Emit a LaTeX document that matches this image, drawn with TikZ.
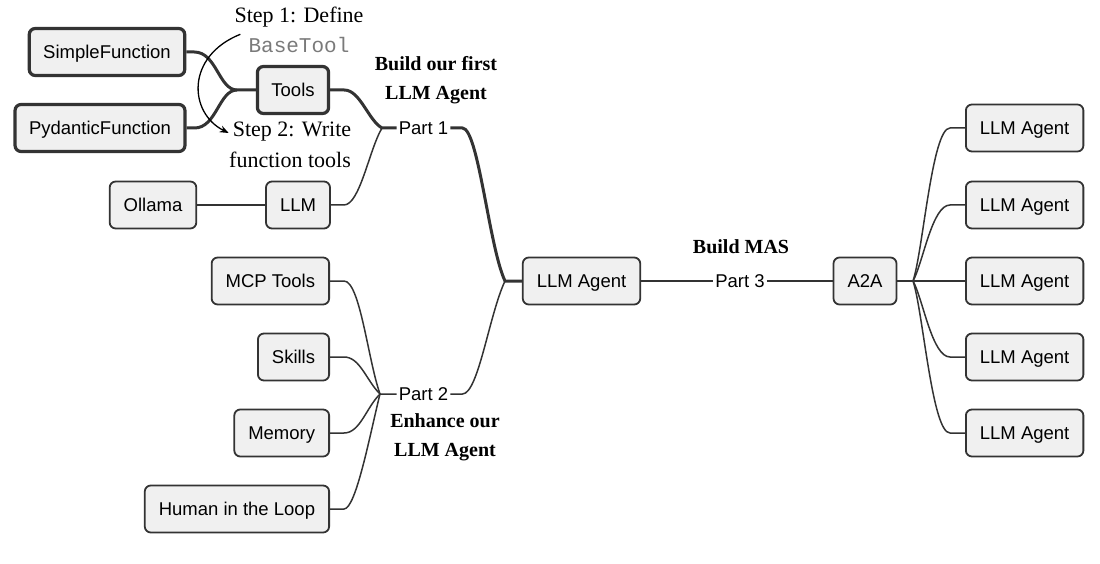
\documentclass[tikz,border=0pt]{standalone}
\usepackage{fontspec}
\setmainfont{Liberation Serif}
\setmonofont{Liberation Mono}
\newfontfamily\boxfont{Liberation Sans}
\usetikzlibrary{arrows.meta,calc}
\definecolor{linec}{HTML}{333333}
\definecolor{boxfill}{HTML}{F0F0F0}
\definecolor{codegray}{HTML}{7A7A7A}
\tikzset{
  box/.style={draw=linec, fill=boxfill, rounded corners=6pt, line width=1.8pt,
    minimum height=47pt, inner xsep=14pt, inner ysep=0pt, text height=13.3pt, text depth=0pt,
    font=\boxfont\fontsize{18.5}{22}\selectfont},
  thickbox/.style={box, line width=3.2pt},
  partlbl/.style={inner xsep=2pt, inner ysep=1pt, text height=13.3pt, text depth=0pt,
    font=\boxfont\fontsize{18.5}{22}\selectfont},
  thin/.style={draw=linec, line width=1.5pt},
  thk/.style={draw=linec, line width=3pt},
  boldlbl/.style={align=center, font=\bfseries\fontsize{20}{29}\selectfont},
  steplbl/.style={inner sep=1pt, font=\fontsize{22}{26}\selectfont},
}
\begin{document}
\begin{tikzpicture}[x=1pt,y=-1pt]
\useasboundingbox (0,0) rectangle (1100,564);

% left group
\node[thickbox] (sf) at (107,52) {SimpleFunction};
\node[thickbox] (pf) at (100,128) {PydanticFunction};
\node[thickbox] (tools) at (293,90) {Tools};
\node[box] (ollama) at (153,205) {Ollama};
\node[box] (llm) at (298,205) {LLM};
\node[partlbl] (p1) at (423.5,128) {Part 1};

\node[box, anchor=east] (mcp) at (330,281) {MCP Tools};
\node[box, anchor=east] (skills) at (330,357) {Skills};
\node[box, anchor=east] (memory) at (330,433) {Memory};
\node[box, anchor=east] (human) at (330,509) {Human in the Loop};
\node[partlbl] (p2) at (423.5,394) {Part 2};

\node[box] (agent) at (581.5,281) {LLM Agent};
\node[partlbl] (p3) at (740,281) {Part 3};
\node[box] (a2a) at (865,281) {A2A};

\node[box, anchor=west] (r1) at (965,128) {LLM Agent};
\node[box, anchor=west] (r2) at (965,205) {LLM Agent};
\node[box, anchor=west] (r3) at (965,281) {LLM Agent};
\node[box, anchor=west] (r4) at (965,357) {LLM Agent};
\node[box, anchor=west] (r5) at (965,433) {LLM Agent};

% labels
\node[steplbl] (s1a) at (299,17) {Step 1: Define};
\node[steplbl, font=\ttfamily\fontsize{21}{26}\selectfont, text=codegray] (s1b) at (299,45) {BaseTool};
\node[steplbl] (s2a) at (292,132) {Step 2: Write};
\node[steplbl] (s2b) at (290,160) {function tools};
\node[boldlbl] (b1) at (436,80) {Build our first\\LLM Agent};
\node[boldlbl] (b2) at (741,247) {Build MAS};
\node[boldlbl] (b3) at (445,437) {Enhance our\\LLM Agent};

% junctions
\coordinate (jT) at (237,90);
\coordinate (j1) at (382,128);
\coordinate (j2) at (380,394);
\coordinate (jA) at (505,281);
\coordinate (jB) at (913,281);

% tools branch
\draw[thk] (sf.east) -- ++(8,0) .. controls +(22,0) and +(-18,0) .. (jT) -- (tools.west);
\draw[thk] (pf.east) -- ++(8,0) .. controls +(22,0) and +(-18,0) .. (jT);
\draw[thk] (tools.east) -- ++(14,0) .. controls +(16,0) and +(-14,-8) .. (j1) -- (p1.west);
\draw[thin] (llm.east) -- ++(13,0) .. controls +(16,0) and +(-13,22) .. (j1);
\draw[thin] (ollama.east) -- (llm.west);
\draw[thk] (p1.east) -- ++(12,0) .. controls +(16,0) and +(-16,-34) .. (jA) -- (agent.west);

% part 2 branch
\draw[thin] (mcp.east) -- ++(14,0) .. controls +(16,0) and +(-12,-34) .. (j2) -- (p2.west);
\draw[thin] (skills.east) -- ++(14,0) .. controls +(16,0) and +(-14,-14) .. (j2);
\draw[thin] (memory.east) -- ++(14,0) .. controls +(16,0) and +(-14,14) .. (j2);
\draw[thin] (human.east) -- ++(14,0) .. controls +(12,0) and +(-10,40) .. (j2);
\draw[thin] (p2.east) -- ++(12,0) .. controls +(16,0) and +(-16,34) .. (jA);

% part 3
\draw[thin] (agent.east) -- (p3.west);
\draw[thin] (p3.east) -- (a2a.west);
\draw[thin] (a2a.east) -- (jB);
\draw[thin] (jB) .. controls +(10,-30) and +(-18,0) .. ($(r1.west)+(-15,0)$) -- (r1.west);
\draw[thin] (jB) .. controls +(10,-18) and +(-18,0) .. ($(r2.west)+(-15,0)$) -- (r2.west);
\draw[thin] (jB) -- (r3.west);
\draw[thin] (jB) .. controls +(10,18) and +(-18,0) .. ($(r4.west)+(-15,0)$) -- (r4.west);
\draw[thin] (jB) .. controls +(10,30) and +(-18,0) .. ($(r5.west)+(-15,0)$) -- (r5.west);

% step arrow
\draw[line width=1.3pt, -{Stealth[length=9pt,width=7pt]}]
  ($(s1a.south west)+(7,6)$) .. controls +(-55,22) and +(-40,-20) .. ($(s2a.west)+(-3,1)$);
\end{tikzpicture}
\end{document}
